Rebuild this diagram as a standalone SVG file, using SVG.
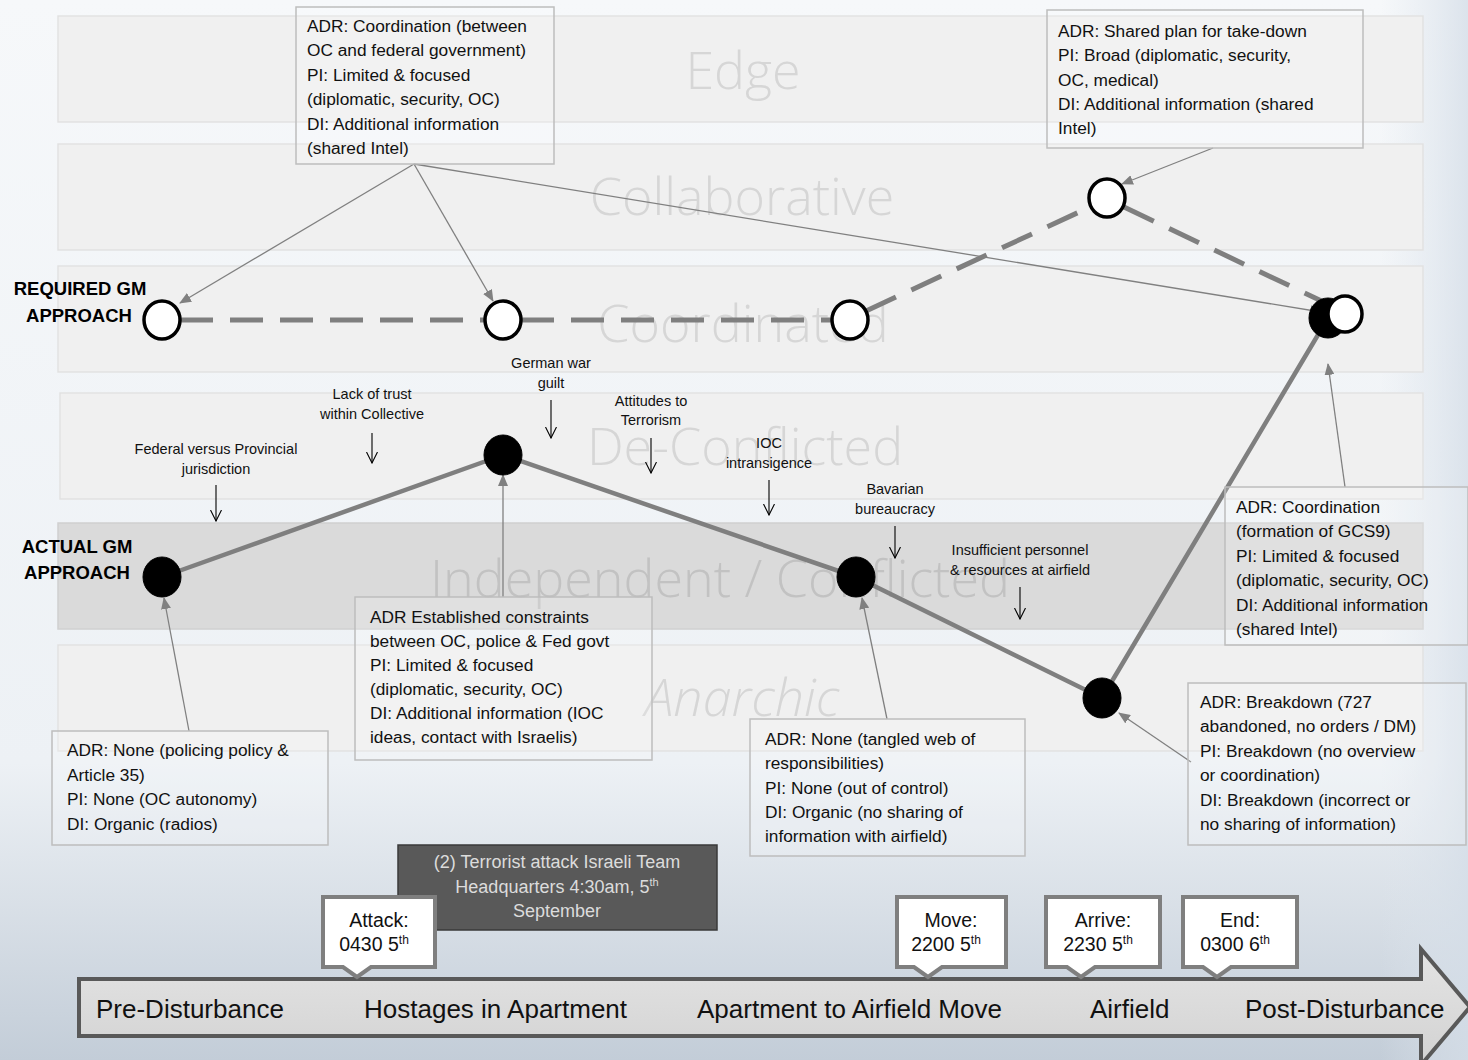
<svg xmlns="http://www.w3.org/2000/svg" width="1468" height="1060" viewBox="0 0 1468 1060">
  <defs>
    <linearGradient id="bg" x1="0" y1="0" x2="0" y2="1">
      <stop offset="0" stop-color="#f6f8fa"/>
      <stop offset="0.72" stop-color="#edf1f5"/>
      <stop offset="1" stop-color="#c3cdd8"/>
    </linearGradient>
    <linearGradient id="bgr" x1="0" y1="0" x2="1" y2="0">
      <stop offset="0" stop-color="#dfe6ee" stop-opacity="0"/>
      <stop offset="1" stop-color="#d5dee8" stop-opacity="0.8"/>
    </linearGradient>
    <linearGradient id="arrowFill" x1="0" y1="0" x2="0" y2="1">
      <stop offset="0" stop-color="#e4e4e4"/>
      <stop offset="1" stop-color="#d2d2d2"/>
    </linearGradient>
    <marker id="ga" viewBox="0 0 12 10" refX="11" refY="5" markerWidth="12" markerHeight="10" markerUnits="userSpaceOnUse" orient="auto">
      <path d="M0,0 L12,5 L0,10 Z" fill="#808080"/>
    </marker>
    <marker id="va" viewBox="0 0 12 12" refX="11" refY="6" markerWidth="12" markerHeight="12" markerUnits="userSpaceOnUse" orient="auto">
      <path d="M0,0.5 L11,6 L0,11.5" fill="none" stroke="#000" stroke-width="1.1"/>
    </marker>
    <style>
      .band { fill: #f0f0f0; stroke: #e2e2e2; stroke-width: 1.5; }
      .bandDark { fill: #dadada; stroke: #d0d0d0; stroke-width: 1.5; }
      .bl { font-family: "Open Sans", "Liberation Sans", sans-serif; font-weight: 300; font-size: 52px; fill: #d6d6d6; text-anchor: middle; }
      .box { fill: #ffffff; fill-opacity: 0.18; stroke: #bdbdbd; stroke-width: 1.5; }
      .bt { font-family: "Liberation Sans", Arial, sans-serif; font-size: 17.3px; fill: #111; }
      .dr { font-family: "Liberation Sans", Arial, sans-serif; font-size: 14.5px; fill: #111; text-anchor: middle; }
      .lab { font-family: "Liberation Sans", Arial, sans-serif; font-size: 18.5px; font-weight: bold; fill: #000; text-anchor: middle; }
      .conn { stroke: #808080; stroke-width: 1.3; fill: none; marker-end: url(#ga); }
      .down { stroke: #000; stroke-width: 1.1; fill: none; marker-end: url(#va); }
      .req { fill: #fff; stroke: #000; stroke-width: 3.5; }
      .act { fill: #000; stroke: #000; stroke-width: 1; }
      .mk { fill: #fff; stroke: #7f7f7f; stroke-width: 4; stroke-linejoin: miter; }
      .mt { font-family: "Liberation Sans", Arial, sans-serif; font-size: 19.5px; fill: #111; text-anchor: middle; }
      .at { font-family: "Liberation Sans", Arial, sans-serif; font-size: 26px; fill: #111; }
    </style>
  </defs>

  <!-- background -->
  <rect x="0" y="0" width="1468" height="1060" fill="url(#bg)"/>
  <rect x="1380" y="0" width="88" height="1060" fill="url(#bgr)"/>

  <!-- bands -->
  <g id="bands">
    <rect class="band" x="58" y="16" width="1365" height="106"/>
    <rect class="band" x="58" y="144" width="1365" height="106"/>
    <rect class="band" x="58" y="266" width="1365" height="106"/>
    <rect class="band" x="60" y="393" width="1363" height="106"/>
    <rect class="bandDark" x="58" y="523" width="1365" height="106"/>
    <rect class="band" x="58" y="645" width="1365" height="106"/>
    <text class="bl" x="743" y="89">Edge</text>
    <text class="bl" x="742" y="215">Collaborative</text>
    <text class="bl" x="743" y="342">Coordinated</text>
    <text class="bl" x="745" y="465">De-Conflicted</text>
    <text class="bl" x="720" y="597" style="fill:#c2c2c2">Independent / Conflicted</text>
    <text class="bl" x="742" y="716" font-style="italic">Anarchic</text>
  </g>

  <!-- row labels -->
  <g id="row-labels">
    <text class="lab" x="80" y="295">REQUIRED GM</text>
    <text class="lab" x="79" y="322">APPROACH</text>
    <text class="lab" x="77" y="553">ACTUAL GM</text>
    <text class="lab" x="77" y="579">APPROACH</text>
  </g>

  <!-- connectors -->
  <g id="connectors">
    <path d="M180,320 H485 M521,320 H832 M866,311 L1090,207 M1124,207 L1330,305" stroke="#7f7f7f" stroke-width="5" fill="none" stroke-dasharray="33 17"/>
    <path d="M162,577 L503,455 L856,577 L1102,698 L1328,318" stroke="#7f7f7f" stroke-width="4.5" fill="none" stroke-linejoin="round"/>
    <line class="conn" x1="414" y1="164" x2="180" y2="303"/>
    <line class="conn" x1="414" y1="164" x2="493" y2="301"/>
    <line class="conn" x1="414" y1="164" x2="1321" y2="312"/>
    <line class="conn" x1="1213" y1="148" x2="1122" y2="184"/>
    <line class="conn" x1="1345" y1="487" x2="1328" y2="364"/>
    <line class="conn" x1="503" y1="597" x2="503" y2="475"/>
    <line class="conn" x1="189" y1="731" x2="164" y2="598"/>
    <line class="conn" x1="887" y1="719" x2="862" y2="598"/>
    <line class="conn" x1="1191" y1="762" x2="1119" y2="713"/>
    <line class="down" x1="216" y1="485" x2="216" y2="521"/>
    <line class="down" x1="372" y1="433" x2="372" y2="463"/>
    <line class="down" x1="551" y1="400" x2="551" y2="438"/>
    <line class="down" x1="651" y1="438" x2="651" y2="473"/>
    <line class="down" x1="769" y1="480" x2="769" y2="515"/>
    <line class="down" x1="895" y1="526" x2="895" y2="558"/>
    <line class="down" x1="1020" y1="587" x2="1020" y2="619"/>
  </g>

  <!-- drivers -->
  <g id="drivers">
    <text class="dr" x="216" y="454">Federal versus Provincial<tspan x="216" dy="20">jurisdiction</tspan></text>
    <text class="dr" x="372" y="399">Lack of trust<tspan x="372" dy="20">within Collective</tspan></text>
    <text class="dr" x="551" y="368">German war<tspan x="551" dy="20">guilt</tspan></text>
    <text class="dr" x="651" y="406">Attitudes to<tspan x="651" dy="19">Terrorism</tspan></text>
    <text class="dr" x="769" y="448">IOC<tspan x="769" dy="20">intransigence</tspan></text>
    <text class="dr" x="895" y="494">Bavarian<tspan x="895" dy="20">bureaucracy</tspan></text>
    <text class="dr" x="1020" y="555">Insufficient personnel<tspan x="1020" dy="20">&amp; resources at airfield</tspan></text>
  </g>

  <!-- required nodes -->
  <g id="req-1"><ellipse class="req" cx="162" cy="320" rx="18" ry="19"/></g>
  <g id="req-2"><ellipse class="req" cx="503" cy="320" rx="18" ry="19"/></g>
  <g id="req-3"><ellipse class="req" cx="850" cy="320" rx="18" ry="19"/></g>
  <g id="req-4"><ellipse class="req" cx="1107" cy="198" rx="18" ry="19"/></g>
  <!-- actual nodes -->
  <g id="act-1"><ellipse class="act" cx="162" cy="577" rx="19" ry="20"/></g>
  <g id="act-2"><ellipse class="act" cx="503" cy="455" rx="19" ry="20"/></g>
  <g id="act-3"><ellipse class="act" cx="856" cy="577" rx="19" ry="20"/></g>
  <g id="act-4"><ellipse class="act" cx="1102" cy="698" rx="19" ry="20"/></g>
  <g id="act-5"><ellipse class="act" cx="1328" cy="318" rx="19" ry="20"/></g>
  <g id="req-5"><ellipse class="req" cx="1345" cy="314" rx="17" ry="18"/></g>

  <!-- callout boxes -->
  <g id="box-coord">
    <rect class="box" x="296" y="7" width="258" height="157"/>
    <text class="bt" x="307" y="32">ADR: Coordination (between<tspan x="307" dy="24.4">OC and federal government)</tspan><tspan x="307" dy="24.4">PI: Limited &amp; focused</tspan><tspan x="307" dy="24.4">(diplomatic, security, OC)</tspan><tspan x="307" dy="24.4">DI: Additional information</tspan><tspan x="307" dy="24.4">(shared Intel)</tspan></text>
  </g>
  <g id="box-shared">
    <rect class="box" x="1047" y="10" width="316" height="138"/>
    <text class="bt" x="1058" y="37">ADR: Shared plan for take-down<tspan x="1058" dy="24.3">PI: Broad (diplomatic, security,</tspan><tspan x="1058" dy="24.3">OC, medical)</tspan><tspan x="1058" dy="24.3">DI: Additional information (shared</tspan><tspan x="1058" dy="24.3">Intel)</tspan></text>
  </g>
  <g id="box-gcs9">
    <rect class="box" x="1225" y="487" width="243" height="158"/>
    <text class="bt" x="1236" y="513">ADR: Coordination<tspan x="1236" dy="24.4">(formation of GCS9)</tspan><tspan x="1236" dy="24.4">PI: Limited &amp; focused</tspan><tspan x="1236" dy="24.4">(diplomatic, security, OC)</tspan><tspan x="1236" dy="24.4">DI: Additional information</tspan><tspan x="1236" dy="24.4">(shared Intel)</tspan></text>
  </g>
  <g id="box-constraints">
    <rect class="box" x="355" y="597" width="297" height="163"/>
    <text class="bt" x="370" y="623">ADR Established constraints<tspan x="370" dy="24">between OC, police &amp; Fed govt</tspan><tspan x="370" dy="24">PI: Limited &amp; focused</tspan><tspan x="370" dy="24">(diplomatic, security, OC)</tspan><tspan x="370" dy="24">DI: Additional information (IOC</tspan><tspan x="370" dy="24">ideas, contact with Israelis)</tspan></text>
  </g>
  <g id="box-policing">
    <rect class="box" x="52" y="731" width="276" height="114"/>
    <text class="bt" x="67" y="756">ADR: None (policing policy &amp;<tspan x="67" dy="24.6">Article 35)</tspan><tspan x="67" dy="24.6">PI: None (OC autonomy)</tspan><tspan x="67" dy="24.6">DI: Organic (radios)</tspan></text>
  </g>
  <g id="box-tangled">
    <rect class="box" x="750" y="719" width="275" height="137"/>
    <text class="bt" x="765" y="745">ADR: None (tangled web of<tspan x="765" dy="24.3">responsibilities)</tspan><tspan x="765" dy="24.3">PI: None (out of control)</tspan><tspan x="765" dy="24.3">DI: Organic (no sharing of</tspan><tspan x="765" dy="24.3">information with airfield)</tspan></text>
  </g>
  <g id="box-breakdown">
    <rect class="box" x="1188" y="683" width="278" height="162"/>
    <text class="bt" x="1200" y="708">ADR: Breakdown (727<tspan x="1200" dy="24.4">abandoned, no orders / DM)</tspan><tspan x="1200" dy="24.4">PI: Breakdown (no overview</tspan><tspan x="1200" dy="24.4">or coordination)</tspan><tspan x="1200" dy="24.4">DI: Breakdown (incorrect or</tspan><tspan x="1200" dy="24.4">no sharing of information)</tspan></text>
  </g>

  <!-- event box -->
  <g id="event-box">
    <rect x="398" y="845" width="319" height="85" fill="#595959" stroke="#3a3a3a" stroke-width="1.5"/>
    <text class="mt" x="557" y="868" style="fill:#dcdcdc;font-size:18px">(2) Terrorist attack Israeli Team<tspan x="557" dy="24.5">Headquarters 4:30am, 5</tspan><tspan font-size="11" dy="-7">th</tspan><tspan x="557" dy="31.5">September</tspan></text>
  </g>

  <!-- timeline arrow -->
  <g id="timeline">
    <path d="M79,979 H1421 V949 L1470,1007 L1421,1065 V1036 H79 Z" fill="url(#arrowFill)" stroke="#595959" stroke-width="4" stroke-linejoin="miter"/>
    <text class="at" x="96" y="1018">Pre-Disturbance</text>
    <text class="at" x="364" y="1018">Hostages in Apartment</text>
    <text class="at" x="697" y="1018">Apartment to Airfield Move</text>
    <text class="at" x="1090" y="1018">Airfield</text>
    <text class="at" x="1245" y="1018">Post-Disturbance</text>
  </g>

  <!-- timeline markers -->
  <g id="mk-attack">
    <path class="mk" d="M323,897 H435 V967 H371 L357,977 L343,967 H323 Z"/>
    <text class="mt" x="379" y="927">Attack:<tspan x="374" dy="24">0430 5</tspan><tspan font-size="12" dy="-7">th</tspan></text>
  </g>
  <g id="mk-move">
    <path class="mk" d="M897,897 H1006 V967 H942 L928,977 L914,967 H897 Z"/>
    <text class="mt" x="951" y="927">Move:<tspan x="946" dy="24">2200 5</tspan><tspan font-size="12" dy="-7">th</tspan></text>
  </g>
  <g id="mk-arrive">
    <path class="mk" d="M1046,897 H1160 V967 H1095 L1081,977 L1067,967 H1046 Z"/>
    <text class="mt" x="1103" y="927">Arrive:<tspan x="1098" dy="24">2230 5</tspan><tspan font-size="12" dy="-7">th</tspan></text>
  </g>
  <g id="mk-end">
    <path class="mk" d="M1183,897 H1297 V967 H1231 L1217,977 L1203,967 H1183 Z"/>
    <text class="mt" x="1240" y="927">End:<tspan x="1235" dy="24">0300 6</tspan><tspan font-size="12" dy="-7">th</tspan></text>
  </g>
</svg>
